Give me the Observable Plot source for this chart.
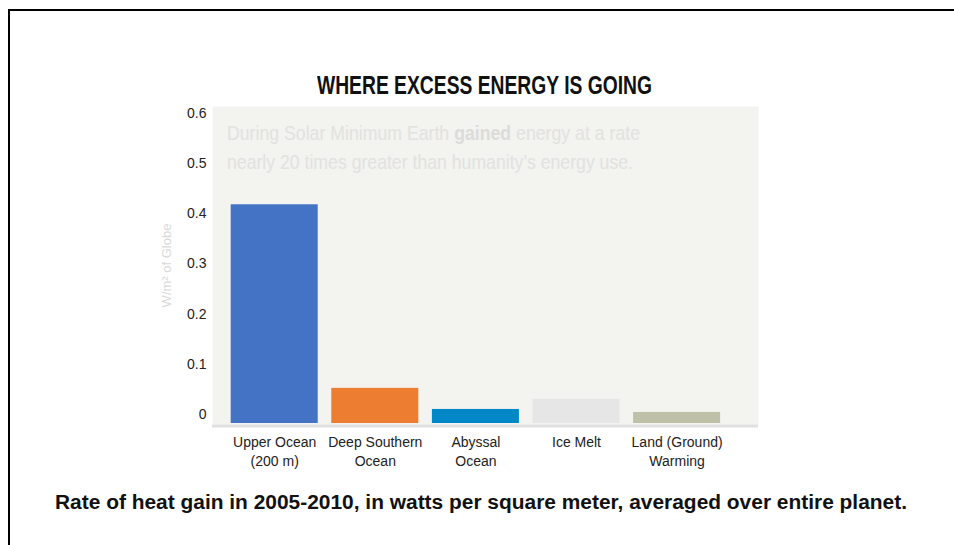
<!DOCTYPE html>
<html>
<head>
<meta charset="utf-8">
<script src="https://cdn.jsdelivr.net/npm/d3@7"></script>
<script src="https://cdn.jsdelivr.net/npm/@observablehq/plot@0.6"></script>
<style>
  html, body { margin: 0; padding: 0; background: #fff; }
  body { width: 954px; height: 545px; position: relative; overflow: hidden; }
  .frameBox { position: absolute; left: 8px; top: 9px; width: 1000px; height: 600px;
    border-left: 2px solid #000; border-top: 2px solid #000; }
  .txt { position: absolute; white-space: nowrap; line-height: 1; transform-origin: 0 0; }
  #title { font-family: "Liberation Sans", Arial, sans-serif; font-weight: bold; font-size: 26px; color: #111; }
  #caption { font-family: "Liberation Sans", Arial, sans-serif; font-weight: bold; font-size: 19.5px; color: #111; }
  .note { font-family: "Liberation Sans", Arial, sans-serif; font-size: 21px; color: #e2e2e0; }
  #chart { position: absolute; left: 0; top: 0; }
</style>
</head>
<body>
<div class="frameBox"></div>
<div id="chart"></div>
<div id="title" class="txt"></div>
<div id="note1" class="txt note"></div>
<div id="note2" class="txt note"></div>
<div id="caption" class="txt"></div>
<script>
// ---- data ----
const categories = ["Upper Ocean (200 m)", "Deep Southern Ocean", "Abyssal Ocean", "Ice Melt", "Land (Ground) Warming"];
const categoryLabels = ["Upper Ocean\n(200 m)", "Deep Southern\nOcean", "Abyssal\nOcean", "Ice Melt", "Land (Ground)\nWarming"];
const values = [0.436, 0.070, 0.028, 0.048, 0.022];
const barColors = ["#4472C4", "#ED7D31", "#0087C8", "#E6E6E6", "#BEC1A7"];
const yTicks = [0, 0.1, 0.2, 0.3, 0.4, 0.5, 0.6];
const yTickLabels = ["0", "0.1", "0.2", "0.3", "0.4", "0.5", "0.6"];
const titleText = "WHERE EXCESS ENERGY IS GOING";
const yLabel = "W/m² of Globe";
const noteLine1 = ["During Solar Minimum Earth ", "gained", " energy at a rate"];
const noteLine2 = "nearly 20 times greater than humanity’s energy use.";
const captionText = "Rate of heat gain in 2005-2010, in watts per square meter, averaged over entire planet.";

const data = categories.map((c, i) => ({cat: c, value: values[i]}));

const W = 954, H = 545;
const plot = Plot.plot({
  width: W,
  height: H,
  marginLeft: 212,
  marginRight: 196,
  marginTop: 106,
  marginBottom: 121,
  style: {fontFamily: "'Liberation Sans Narrow','Arial Narrow','Liberation Sans',Arial,sans-serif", fontSize: "14px", color: "#222", background: "transparent"},
  x: {domain: categories, range: [230.7, 720.1], paddingInner: 0.135, paddingOuter: 0, round: false},
  y: {domain: [0, 0.6], range: [423, 122]},
  color: {domain: categories, range: barColors},
  marks: [
    Plot.frame({fill: "#F3F3EF", stroke: null}),
    Plot.ruleY([0], {stroke: "#E0E0E0", strokeWidth: 3, dy: 2.5}),
    Plot.barY(data, {x: "cat", y: "value", fill: "cat"}),
    Plot.axisY({ticks: yTicks, tickFormat: (d) => yTickLabels[yTicks.indexOf(d)], tickSize: 0, tickPadding: 6, dy: -9, label: null, fontSize: 14}),
    Plot.axisX({tickSize: 0, tickPadding: 8.5, tickFormat: d => categoryLabels[categories.indexOf(d)], label: null, fontSize: 14, lineHeight: 1.38}),
    Plot.text([yLabel], {frameAnchor: "left", textAnchor: "middle", rotate: -90, dx: -46, fill: "#DADADA", fontSize: 13})
  ]
});
document.getElementById("chart").appendChild(plot);

function place(el, left, top, targetW) {
  el.style.left = left + "px";
  el.style.top = top + "px";
  const w = el.getBoundingClientRect().width;
  if (targetW && w > 0) el.style.transform = `scaleX(${targetW / w})`;
}
const t = document.getElementById("title");
t.textContent = titleText;
place(t, 317, 71.6, 335);

const n1 = document.getElementById("note1");
n1.innerHTML = "";
noteLine1.forEach((s, i) => {
  const sp = document.createElement("span");
  sp.textContent = s;
  if (i === 1) { sp.style.fontWeight = "bold"; sp.style.color = "#dcdcda"; }
  n1.appendChild(sp);
});
place(n1, 227, 122.3, 413);
const n2 = document.getElementById("note2");
n2.textContent = noteLine2;
place(n2, 227, 151.3, 406);

const c = document.getElementById("caption");
c.textContent = captionText;
place(c, 55, 492.5, 852);
</script>
</body>
</html>
